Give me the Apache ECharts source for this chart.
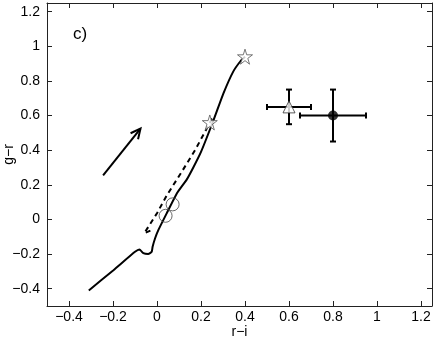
<!DOCTYPE html>
<html>
<head>
<meta charset="utf-8">
<script src="https://cdn.jsdelivr.net/npm/echarts@6/dist/echarts.min.js"></script>
<style>html,body{margin:0;padding:0;background:#fff}#chart{width:436px;height:340px}</style>
</head>
<body>
<div id="chart"></div>
<script>
// tick positions (both axes share the same ticks)
var xTicks = [-0.4, -0.2, 0, 0.2, 0.4, 0.6, 0.8, 1, 1.2];
var yTicks = [-0.4, -0.2, 0, 0.2, 0.4, 0.6, 0.8, 1, 1.2];

// solid track (r-i, g-r)
var trackSolid = [
  [-0.31,-0.41], [-0.198,-0.293], [-0.10,-0.187], [-0.08,-0.173], [-0.062,-0.195],
  [-0.04,-0.2], [-0.024,-0.187], [-0.02,-0.158], [-0.009,-0.11], [0.006,-0.062],
  [0.044,0.035], [0.09,0.15], [0.135,0.23], [0.165,0.30], [0.2,0.39],
  [0.256,0.57], [0.302,0.728], [0.347,0.855], [0.38,0.915], [0.4,0.94]
];
// dashed track
var trackDashed = [
  [-0.03,-0.065], [-0.058,-0.08], [0.0,0.036], [0.045,0.14], [0.11,0.27],
  [0.173,0.40], [0.218,0.506], [0.253,0.59]
];
var starPts = [[0.24,0.56], [0.4,0.94]];
var openCircles = [[0.039,0.021], [0.071,0.087]];
// [x, y, xerr, yerr]
var triPoint = [[0.6, 0.65, 0.1, 0.1]];
var dotPoint = [[0.8, 0.6, 0.15, 0.15]];
// arrow: [x0, y0, x1, y1]
var arrowSeg = [[-0.245, 0.255, -0.075, 0.525]];

var FONT = '"Liberation Sans", Arial, sans-serif';
var minus = function(v){ return String(v).replace('-', '\u2212'); };
var STAR = 'path://M50,2 L61,37 L98,37 L68,59 L79,95 L50,73 L21,95 L32,59 L2,37 L39,37 Z';

function errRender(params, api){
  var x = api.value(0), y = api.value(1), ex = api.value(2), ey = api.value(3);
  var l = api.coord([x-ex, y]), r = api.coord([x+ex, y]);
  var t = api.coord([x, y+ey]), b = api.coord([x, y-ey]);
  var st = {stroke:'#000', lineWidth:2};
  var c = 3;
  return {type:'group', children:[
    {type:'line', shape:{x1:l[0], y1:l[1], x2:r[0], y2:r[1]}, style:st},
    {type:'line', shape:{x1:t[0], y1:t[1], x2:b[0], y2:b[1]}, style:st},
    {type:'line', shape:{x1:l[0], y1:l[1]-c, x2:l[0], y2:l[1]+c}, style:st},
    {type:'line', shape:{x1:r[0], y1:r[1]-c, x2:r[0], y2:r[1]+c}, style:st},
    {type:'line', shape:{x1:t[0]-c, y1:t[1], x2:t[0]+c, y2:t[1]}, style:st},
    {type:'line', shape:{x1:b[0]-c, y1:b[1], x2:b[0]+c, y2:b[1]}, style:st}
  ]};
}

function arrowRender(params, api){
  var p0 = api.coord([api.value(0), api.value(1)]);
  var p1 = api.coord([api.value(2), api.value(3)]);
  var ang = Math.atan2(p1[1]-p0[1], p1[0]-p0[0]);
  var len = 11, spread = 0.45;
  var a1 = [p1[0]-len*Math.cos(ang-spread), p1[1]-len*Math.sin(ang-spread)];
  var a2 = [p1[0]-len*Math.cos(ang+spread), p1[1]-len*Math.sin(ang+spread)];
  var st = {stroke:'#000', lineWidth:2, fill:null};
  return {type:'group', children:[
    {type:'line', shape:{x1:p0[0], y1:p0[1], x2:p1[0], y2:p1[1]}, style:st},
    {type:'polyline', shape:{points:[a1, p1, a2]}, style:st}
  ]};
}

var axisBase = {
  type:'value', min:-0.5, max:1.25,
  axisLine:{show:true, onZero:false, lineStyle:{color:'#222', width:1}},
  splitLine:{show:false}
};

var chart = echarts.init(document.getElementById('chart'), null, {renderer:'canvas'});
chart.setOption({
  animation:false,
  backgroundColor:'#fff',
  title:{text:'c)', left:68, top:21, textStyle:{fontFamily:FONT, fontSize:17, fontWeight:'normal', color:'#000'}},
  grid:{left:47, right:4, top:3, bottom:34, containLabel:false, outerBoundsMode:'none'},
  xAxis:[
    Object.assign({}, axisBase, {
      position:'bottom', name:'r\u2212i', nameLocation:'middle', nameGap:19, nameMoveOverlap:false,
      nameTextStyle:{fontFamily:FONT, fontSize:14, color:'#000'},
      axisTick:{show:true, inside:true, length:5, customValues:xTicks, lineStyle:{color:'#222'}},
      axisLabel:{customValues:xTicks, formatter:minus, fontFamily:FONT, fontSize:14, color:'#000', margin:4}
    }),
    Object.assign({}, axisBase, {
      position:'top',
      axisTick:{show:true, inside:true, length:5, customValues:xTicks, lineStyle:{color:'#222'}},
      axisLabel:{show:false}
    })
  ],
  yAxis:[
    Object.assign({}, axisBase, {
      position:'left', name:'g\u2212r', nameLocation:'middle', nameGap:31, nameMoveOverlap:false,
      nameTextStyle:{fontFamily:FONT, fontSize:14, color:'#000'},
      axisTick:{show:true, inside:true, length:5, customValues:yTicks, lineStyle:{color:'#222'}},
      axisLabel:{customValues:yTicks, formatter:minus, fontFamily:FONT, fontSize:14, color:'#000', margin:7}
    }),
    Object.assign({}, axisBase, {
      position:'right',
      axisTick:{show:true, inside:true, length:5, customValues:yTicks, lineStyle:{color:'#222'}},
      axisLabel:{show:false}
    })
  ],
  series:[
    {type:'line', data:trackSolid, showSymbol:false, smooth:0.15, lineStyle:{color:'#000', width:2}, z:2},
    {type:'line', data:trackDashed, showSymbol:false, lineStyle:{color:'#000', width:2, type:[5,4]}, z:2},
    {type:'scatter', data:openCircles, symbol:'circle', symbolSize:13,
      itemStyle:{color:'rgba(0,0,0,0)', borderColor:'#444', borderWidth:1}, z:3},
    {type:'scatter', data:starPts, symbol:STAR, symbolSize:15,
      itemStyle:{color:'#fff', borderColor:'#555', borderWidth:1}, z:3},
    {type:'custom', data:arrowSeg, renderItem:arrowRender, z:2},
    {type:'custom', data:triPoint, renderItem:errRender, z:2},
    {type:'custom', data:dotPoint, renderItem:errRender, z:2},
    {type:'scatter', data:triPoint.map(function(d){return [d[0], d[1]];}), symbol:'triangle', symbolSize:12,
      itemStyle:{color:'#fff', borderColor:'#333', borderWidth:1}, z:4},
    {type:'scatter', data:dotPoint.map(function(d){return [d[0], d[1]];}), symbol:'circle', symbolSize:10,
      itemStyle:{color:'#000'}, z:4}
  ]
});
</script>
</body>
</html>
